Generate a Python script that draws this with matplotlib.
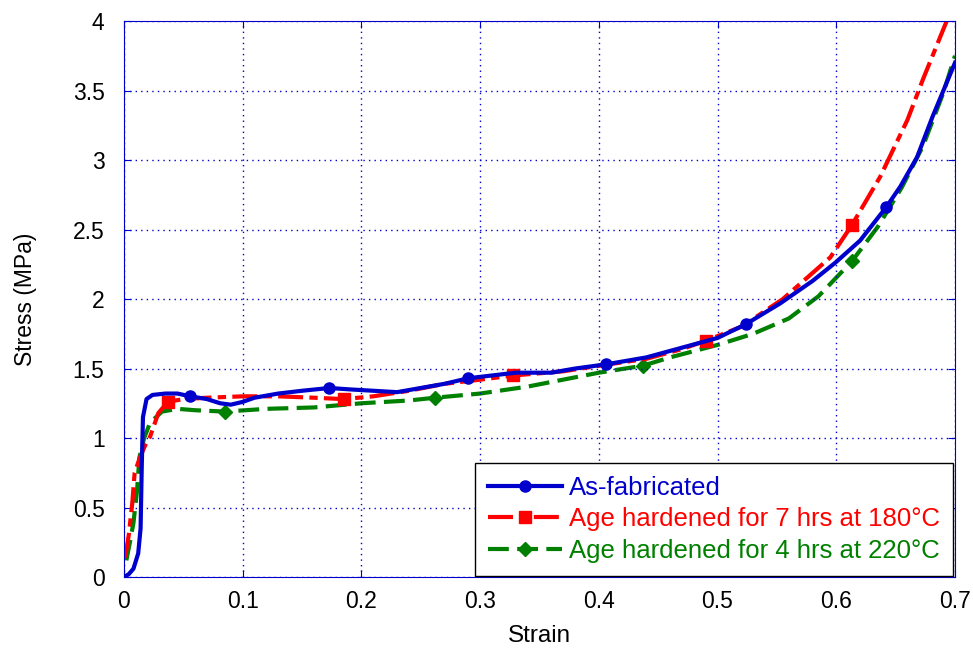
import numpy as np
import matplotlib
matplotlib.use("Agg")
import matplotlib.pyplot as plt

plt.rcParams['font.family'] = ['Liberation Sans', 'DejaVu Sans']

# As-fabricated
blue_x = [0, 0.004, 0.008, 0.012, 0.014, 0.015, 0.016, 0.019, 0.024, 0.035, 0.045, 0.056,
          0.07, 0.081, 0.09, 0.1, 0.11, 0.13, 0.15, 0.173, 0.19, 0.21, 0.23, 0.25, 0.27,
          0.29, 0.31, 0.33, 0.36, 0.38, 0.406, 0.44, 0.47, 0.50, 0.524, 0.553, 0.58,
          0.599, 0.62, 0.642, 0.654, 0.668, 0.681, 0.70]
blue_y = [0, 0.02, 0.06, 0.17, 0.35, 0.8, 1.15, 1.28, 1.31, 1.32, 1.32, 1.30,
          1.28, 1.25, 1.24, 1.26, 1.29, 1.32, 1.34, 1.36, 1.35, 1.34, 1.33, 1.36, 1.39,
          1.43, 1.45, 1.47, 1.47, 1.50, 1.53, 1.58, 1.65, 1.72, 1.82, 1.97, 2.13,
          2.26, 2.42, 2.66, 2.81, 3.02, 3.31, 3.70]
blue_marks = [0.056, 0.173, 0.29, 0.406, 0.524, 0.642]

# Age hardened 7 hrs at 180C
red_x = [0.001, 0.004, 0.007, 0.009, 0.013, 0.018, 0.022, 0.029, 0.037, 0.05, 0.07, 0.1,
         0.13, 0.16, 0.185, 0.21, 0.24, 0.27, 0.30, 0.328, 0.37, 0.40, 0.44, 0.47, 0.49,
         0.52, 0.555, 0.575, 0.595, 0.613, 0.637, 0.66, 0.673, 0.693]
red_y = [0.14, 0.3, 0.53, 0.75, 0.85, 0.95, 1.01, 1.18, 1.26, 1.28, 1.29, 1.30,
         1.30, 1.29, 1.28, 1.30, 1.34, 1.39, 1.42, 1.45, 1.48, 1.52, 1.57, 1.64, 1.70,
         1.80, 2.0, 2.15, 2.3, 2.53, 2.88, 3.29, 3.58, 4.0]
red_marks = [0.037, 0.185, 0.328, 0.49, 0.613]

# Age hardened 4 hrs at 220C
green_x = [0.002, 0.005, 0.008, 0.011, 0.013, 0.017, 0.022, 0.032, 0.045, 0.06, 0.085,
           0.12, 0.16, 0.2, 0.24, 0.262, 0.3, 0.34, 0.37, 0.40, 0.437, 0.46, 0.50, 0.53,
           0.56, 0.585, 0.613, 0.635, 0.655, 0.673, 0.69, 0.70]
green_y = [0.12, 0.25, 0.39, 0.62, 0.86, 1.0, 1.11, 1.19, 1.21, 1.20, 1.19,
           1.21, 1.22, 1.25, 1.27, 1.29, 1.32, 1.37, 1.42, 1.47, 1.52, 1.58, 1.67, 1.75,
           1.86, 2.02, 2.27, 2.52, 2.8, 3.1, 3.48, 3.75]
green_marks = [0.085, 0.262, 0.437, 0.613]

labels = ["As-fabricated", "Age hardened for 7 hrs at 180\u00b0C",
          "Age hardened for 4 hrs at 220\u00b0C"]

BLUE = '#0000CD'
RED = '#FF0000'
GREEN = '#008000'

fig = plt.figure(figsize=(9.73, 6.49), dpi=100)
ax = fig.add_axes([0.1274, 0.1109, 0.8541, 0.8567])


def every(xs, marks):
    return [xs.index(m) for m in marks]


ax.plot(blue_x, blue_y, color=BLUE, lw=3, marker='o', ms=8,
        markevery=every(blue_x, blue_marks), label=labels[0], zorder=3)
ax.plot(red_x, red_y, color=RED, lw=3, marker='s', ms=9, dashes=(6, 1.5, 2, 1.5),
        markevery=every(red_x, red_marks), label=labels[1], zorder=2)
ax.plot(green_x, green_y, color=GREEN, lw=3, marker='D', ms=7.5, dashes=(5, 2),
        markevery=every(green_x, green_marks), label=labels[2], zorder=1)

ax.set_xlim(0, 0.7)
ax.set_ylim(0, 4)
ax.set_xticks(np.arange(0, 0.71, 0.1))
ax.set_xticklabels(['0', '0.1', '0.2', '0.3', '0.4', '0.5', '0.6', '0.7'])
ax.set_yticks(np.arange(0, 4.01, 0.5))
ax.set_yticklabels(['0', '0.5', '1', '1.5', '2', '2.5', '3', '3.5', '4'])

ax.grid(True, color=BLUE, linestyle=(0, (1, 3)), linewidth=1)
for s in ax.spines.values():
    s.set_color(BLUE)
ax.tick_params(direction='in', top=True, right=True, color=BLUE,
               labelcolor='black', labelsize=16.5, length=5)
ax.tick_params(axis='x', pad=9)
ax.tick_params(axis='y', pad=14)

ax.set_xlabel('Strain', fontsize=17.5, labelpad=9)
ax.set_ylabel('Stress (MPa)', fontsize=16.5, labelpad=26)

leg = ax.legend(loc='lower right', bbox_to_anchor=(0.997, 0.002), fontsize=18.5,
                labelcolor='linecolor', fancybox=False, edgecolor='black',
                framealpha=1, borderaxespad=0, handlelength=2.9, handletextpad=0.25,
                labelspacing=0.3, borderpad=0.5)
leg.get_frame().set_linewidth(1)

plt.savefig('out.png', dpi=100)
